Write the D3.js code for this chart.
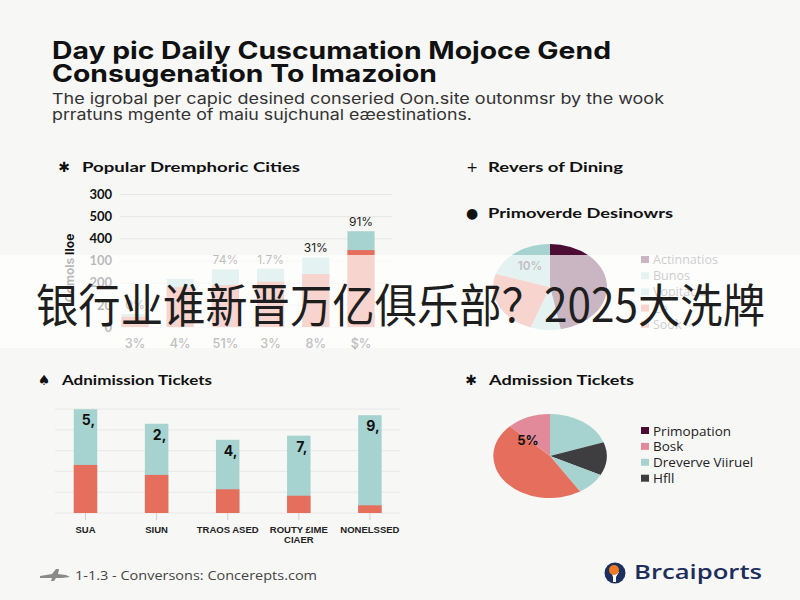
<!DOCTYPE html>
<html>
<head>
<meta charset="utf-8">
<script src="https://cdn.jsdelivr.net/npm/d3@7"></script>
<style>
  body { margin: 0; background: #f7f7f6; }
  svg { display: block; font-family: Inter, "Noto Sans", sans-serif; }
</style>
</head>
<body>
<div id="chart"></div>
<script>

// ---- data ----
var titleLines = ["Day pic Daily Cuscumation Mojoce Gend", "Consugenation To Imazoion"];
var subLines = ["The igrobal per capic desined conseried Oon.site outonmsr by the wook",
                "prratuns mgente of maiu sujchunal eæestinations."];
var headline = "银行业谁新晋万亿俱乐部？2025大洗牌";

// top left: Popular Dremphoric Cities
var cityLabels = ["3%", "4%", "51%", "3%", "8%", "$%"];
var cityTotal = [0.59, 2.17, 2.60, 2.63, 3.14, 4.32];
var cityLower = [0.46, 1.80, 1.89, 2.04, 2.39, 3.47];
var cityTopLabels = ["0%", "", "74%", "1.7%", "31%", "91%"];
var cityTicks = ["0", "20", "200", "100", "400", "500", "300"];

// top right: Primoverde Desinowrs
var diningKeys = ["Actinnatios", "Bunos", "Vopitacks", "Ce", "Sook"];
var diningSlices = [
  {k: "Actinnatios", v: 47},
  {k: "Bunos", v: 8.5},
  {k: "Ce", v: 24.5},
  {k: "Vopitacks", v: 20}
];
var diningLabel = "10%";

// bottom left: Adnimission Tickets
var ticketCats = ["SUA", "SIUN", "TRAOS ASED", "ROUTY £IME\nCIAER", "NONELSSED"];
var ticketTotal = [4.99, 4.29, 3.52, 3.72, 4.70];
var ticketLower = [2.31, 1.83, 1.14, 0.83, 0.37];
var ticketValueLabels = ["5,", "2,", "4,", "7,", "9,"];

// bottom right: Admission Tickets
var admKeys = ["Primopation", "Bosk", "Dreverve Viiruel", "Hfll"];
var admSlices = [
  {k: "Dreverve Viiruel", v: 19.7},
  {k: "Hfll", v: 12.8},
  {k: "Dreverve Viiruel", v: 8.6},
  {k: "Red", v: 46.4},
  {k: "Bosk", v: 12.5}
];
var admLabel = "5%";

var teal = "#a6d3cf", red = "#e56f5c", maroon = "#4c0c33", pink = "#e2899a", dark = "#3e3e40";

var svg = d3.select("#chart").append("svg")
  .attr("width", 800).attr("height", 600);

svg.append("rect").attr("width", 800).attr("height", 600).attr("fill", "#f7f7f6");

function txt(x, y, s, size, weight, fill, len) {
  var t = svg.append("text")
    .attr("x", x).attr("y", y)
    .style("font-size", size + "px")
    .style("font-weight", weight)
    .attr("fill", fill)
    .text(s);
  if (len) t.attr("textLength", len).attr("lengthAdjust", "spacingAndGlyphs");
  return t;
}

// ---- header ----
txt(52, 59, titleLines[0], 24, 700, "#111", 559);
txt(52, 82, titleLines[1], 24, 700, "#111", 385);
txt(52, 104, subLines[0], 15, 400, "#333", 612);
txt(52, 120, subLines[1], 15, 400, "#333", 420);

// panel titles
function panelTitle(ix, tx, y, icon, s, len) {
  svg.append("text").attr("x", ix).attr("y", y + 5).attr("text-anchor", "middle")
    .style("font-size", "14px").style("font-family", "DejaVu Sans").attr("fill", "#111").text(icon);
  txt(tx, y + 5, s, 14, 700, "#111", len).style("font-family", "Lato, sans-serif");
}
panelTitle(64, 82, 167, "✱", "Popular Dremphoric Cities", 218);
panelTitle(472, 488, 167, "+", "Revers of Dining", 135);
panelTitle(472, 488, 213, "●", "Primoverde Desinowrs", 185);
panelTitle(44, 62, 380, "♠", "Adnimission Tickets", 150);
panelTitle(471, 489, 380, "✱", "Admission Tickets", 145);

// ---- top left bars ----
var cx1 = d3.scaleBand().domain(d3.range(cityLabels.length))
  .range([112.4, 383.6]).paddingInner(0.4).paddingOuter(0.2);
var cy1 = d3.scaleLinear().domain([0, 6]).range([327, 194]);

var ax1 = svg.append("g").attr("transform", "translate(120,0)")
  .call(d3.axisLeft(cy1).ticks(6).tickSize(-272).tickPadding(8)
    .tickFormat(function(d) { return cityTicks[d]; }));
ax1.select(".domain").remove();
ax1.selectAll("line").attr("stroke", "#e6e6e6");
ax1.selectAll("text").style("font-size", "13px").style("font-weight", 700)
  .style("font-family", "Lato, sans-serif").attr("fill", "#111");

var b1 = svg.append("g");
b1.selectAll(".top").data(cityTotal).enter().append("rect")
  .attr("x", function(d, i) { return cx1(i); })
  .attr("width", cx1.bandwidth())
  .attr("y", function(d) { return cy1(d); })
  .attr("height", function(d) { return cy1(0) - cy1(d); })
  .attr("fill", teal);
b1.selectAll(".low").data(cityLower).enter().append("rect")
  .attr("x", function(d, i) { return cx1(i); })
  .attr("width", cx1.bandwidth())
  .attr("y", function(d) { return cy1(d); })
  .attr("height", function(d) { return cy1(0) - cy1(d); })
  .attr("fill", red);
b1.selectAll(".vl").data(cityTopLabels).enter().append("text")
  .attr("x", function(d, i) { return cx1(i) + cx1.bandwidth() / 2; })
  .attr("y", function(d, i) { return cy1(cityTotal[i]) - 5; })
  .attr("text-anchor", "middle")
  .style("font-size", "12px").attr("fill", "#222").text(function(d) { return d; });
b1.selectAll(".xl").data(cityLabels).enter().append("text")
  .attr("x", function(d, i) { return cx1(i) + cx1.bandwidth() / 2; })
  .attr("y", 348)
  .attr("text-anchor", "middle")
  .style("font-size", "12.5px").style("font-weight", 600).attr("fill", "#333")
  .text(function(d) { return d; });

svg.append("text")
  .attr("transform", "translate(74,268) rotate(-90)")
  .attr("text-anchor", "middle")
  .style("font-size", "12px").style("font-weight", 700).attr("fill", "#111")
  .text("Comols IIoe");

// ---- pies ----
function drawPie(cx, cy, rx, ry, data, colorOf) {
  var g = svg.append("g").attr("transform", "translate(" + cx + "," + cy + ") scale(1," + (ry / rx) + ")");
  var arcs = d3.pie().sort(null).value(function(d) { return d.v; })(data);
  var arc = d3.arc().innerRadius(0).outerRadius(rx);
  g.selectAll("path").data(arcs).enter().append("path")
    .attr("d", arc).attr("fill", function(d) { return colorOf(d.data.k); });
  return arcs;
}

var diningColor = d3.scaleOrdinal().domain(diningKeys).range([maroon, teal, teal, red, red]);
var dArcs = drawPie(550, 287, 57, 43, diningSlices, diningColor);
// label in the last slice
var dl = d3.arc().innerRadius(57 * 0.6).outerRadius(57 * 0.6).centroid(dArcs[3]);
svg.append("text").attr("x", 550 + dl[0]).attr("y", 287 + dl[1] * 43 / 57 + 4)
  .attr("text-anchor", "middle").style("font-size", "11.5px").style("font-weight", 700)
  .attr("fill", "#333").text(diningLabel);

var lg1 = svg.append("g");
lg1.selectAll("rect").data(diningKeys).enter().append("rect")
  .attr("x", 641).attr("y", function(d, i) { return 256 + i * 16.2; })
  .attr("width", 8).attr("height", 7).attr("fill", function(d) { return diningColor(d); });
lg1.selectAll("text").data(diningKeys).enter().append("text")
  .attr("x", 653).attr("y", function(d, i) { return 264 + i * 16.2; })
  .style("font-size", "12.5px").style("font-family", "'Open Sans', sans-serif").attr("fill", "#555")
  .text(function(d) { return d; });

var admColor = d3.scaleOrdinal().domain(admKeys.concat(["Red"])).range([maroon, pink, teal, dark, red]);
var aArcs = drawPie(550, 456, 56.7, 42, admSlices, admColor);
var al = d3.arc().innerRadius(56.7 * 0.55).outerRadius(56.7 * 0.55)
  .startAngle(aArcs[4].startAngle).endAngle(aArcs[4].startAngle).centroid();
svg.append("text").attr("x", 550 + al[0]).attr("y", 456 + al[1] * 42 / 56.7 + 5)
  .attr("text-anchor", "middle").style("font-size", "13px").style("font-weight", 700)
  .attr("fill", "#111").text(admLabel);

var lg2 = svg.append("g");
lg2.selectAll("rect").data(admKeys).enter().append("rect")
  .attr("x", 641).attr("y", function(d, i) { return 427 + i * 15.9; })
  .attr("width", 8).attr("height", 7).attr("fill", function(d) { return admColor(d); });
lg2.selectAll("text").data(admKeys).enter().append("text")
  .attr("x", 653).attr("y", function(d, i) { return 435.5 + i * 15.9; })
  .style("font-size", "13.5px").style("font-family", "'Open Sans', sans-serif").attr("fill", "#222")
  .text(function(d) { return d; });

// ---- bottom left bars ----
var cx2 = d3.scaleBand().domain(d3.range(ticketCats.length))
  .range([49.95, 405.45]).paddingInner(0.67).paddingOuter(0.335);
var cy2 = d3.scaleLinear().domain([0, 5]).range([513, 409]);

svg.append("g").selectAll("line").data(cy2.ticks(5)).enter().append("line")
  .attr("x1", 55).attr("x2", 400)
  .attr("y1", function(d) { return cy2(d); }).attr("y2", function(d) { return cy2(d); })
  .attr("stroke", "#e8e8e8");

var ax2 = svg.append("g").attr("transform", "translate(0,513)")
  .call(d3.axisBottom(cx2).tickSize(7).tickFormat(""));
ax2.select(".domain").remove();
ax2.selectAll("line").attr("stroke", "#d0d0d0");

var b2 = svg.append("g");
b2.selectAll(".top").data(ticketTotal).enter().append("rect")
  .attr("x", function(d, i) { return cx2(i); })
  .attr("width", cx2.bandwidth())
  .attr("y", function(d) { return cy2(d); })
  .attr("height", function(d) { return cy2(0) - cy2(d); })
  .attr("fill", teal);
b2.selectAll(".low").data(ticketLower).enter().append("rect")
  .attr("x", function(d, i) { return cx2(i); })
  .attr("width", cx2.bandwidth())
  .attr("y", function(d) { return cy2(d); })
  .attr("height", function(d) { return cy2(0) - cy2(d); })
  .attr("fill", red);
b2.selectAll(".vl").data(ticketValueLabels).enter().append("text")
  .attr("x", function(d, i) { return cx2(i) + cx2.bandwidth() / 2 + 3; })
  .attr("y", function(d, i) { return cy2(ticketTotal[i]) + 16; })
  .attr("text-anchor", "middle")
  .style("font-size", "14px").style("font-weight", 700).attr("fill", "#111")
  .text(function(d) { return d; });

var xl2 = b2.selectAll(".xl").data(ticketCats).enter().append("text")
  .attr("text-anchor", "middle")
  .style("font-size", "9.5px").style("font-weight", 700)
  .style("font-family", "'Liberation Sans', sans-serif").attr("fill", "#222");
xl2.each(function(d, i) {
  var el = d3.select(this);
  d.split("\n").forEach(function(line, j) {
    el.append("tspan")
      .attr("x", cx2(i) + cx2.bandwidth() / 2)
      .attr("y", 533 + j * 9.5)
      .text(line);
  });
});

// ---- footer ----
svg.append("path")
  .attr("d", "M40,576 L52,574 L56,569 L59,569 L58,574 L66,575 L70,577 L62,578 L56,578 L54,581 L51,581 L52,578 L40,578 Z")
  .attr("fill", "#8a8a8a");
txt(75, 580, "1-1.3 - Conversons:  Concerepts.com", 12.5, 400, "#444", 242)
  .style("font-family", "'Open Sans', sans-serif");

svg.append("circle").attr("cx", 615).attr("cy", 573).attr("r", 10.5).attr("fill", "#1d2f5f");
svg.append("path").attr("d", "M611,572 L619,572 L616,577 L616,582 L613,582 L613,577 Z").attr("fill", "#fff");
svg.append("circle").attr("cx", 614).attr("cy", 570).attr("r", 5).attr("fill", "#ef7a24");
txt(634, 579, "Brcaiports", 19, 600, "#1d2e5c", 128).style("font-family", "'Open Sans', sans-serif");

// ---- overlay band + headline ----
svg.append("rect").attr("x", 0).attr("y", 255).attr("width", 800).attr("height", 93)
  .attr("fill", "#ffffff").attr("fill-opacity", 0.7);
svg.append("text").attr("x", 36).attr("y", 322)
  .attr("textLength", 729).attr("lengthAdjust", "spacingAndGlyphs")
  .style("font-size", "46px").style("font-family", "'Noto Sans CJK SC', sans-serif")
  .attr("fill", "#1e1e1e").text(headline);

</script>
</body>
</html>
